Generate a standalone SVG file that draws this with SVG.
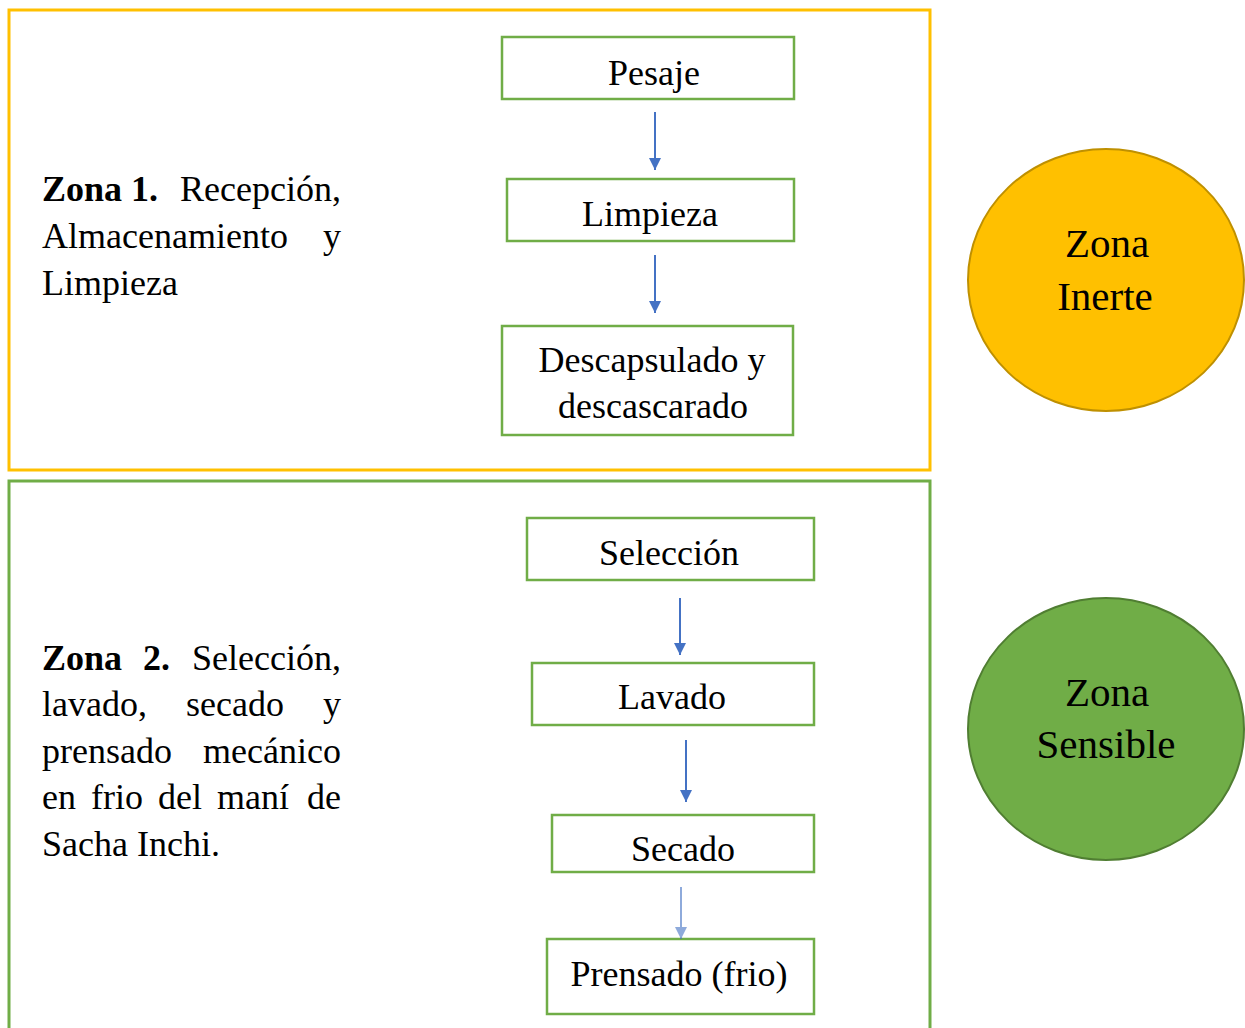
<svg xmlns="http://www.w3.org/2000/svg" width="1245" height="1028" viewBox="0 0 1245 1028">
<defs>
<style>
.box{fill:#fff;stroke:#70AD47;stroke-width:2.5}
.arr{stroke:#4472C4;stroke-width:2;fill:none}
</style>
<marker id="ah" viewBox="0 0 10 10" refX="10" refY="5" markerWidth="7" markerHeight="6" markerUnits="strokeWidth" orient="auto">
<path d="M0,0 L10,5 L0,10 z" fill="#4472C4"/>
</marker>
</defs>
<rect width="1245" height="1028" fill="#fff"/>
<g id="zona1-frame">
<rect x="9" y="10" width="921" height="460" fill="none" stroke="#FFC000" stroke-width="3"/>
</g>
<g id="zona2-frame">
<rect x="9" y="481" width="921" height="560" fill="none" stroke="#70AD47" stroke-width="3"/>
</g>
<g id="zona1-text" font-size="36" font-family="Liberation Serif, serif">
<text font-weight="bold" x="42" y="201">Zona 1.</text>
<text text-anchor="end" x="341" y="201">Recepción,</text>
<text x="42" y="248">Almacenamiento</text>
<text text-anchor="end" x="341" y="248">y</text>
<text x="42" y="295">Limpieza</text>
</g>
<g id="zona2-text" font-size="36" font-family="Liberation Serif, serif">
<text font-weight="bold" x="42" y="670">Zona</text>
<text font-weight="bold" x="143" y="670">2.</text>
<text text-anchor="end" x="341" y="670">Selección,</text>
<text x="42" y="716">lavado,</text>
<text x="186" y="716">secado</text>
<text text-anchor="end" x="341" y="716">y</text>
<text x="42" y="763">prensado</text>
<text text-anchor="end" x="341" y="763">mecánico</text>
<text x="42" y="809">en</text>
<text x="91" y="809">frio</text>
<text x="158" y="809">del</text>
<text x="217" y="809">maní</text>
<text text-anchor="end" x="341" y="809">de</text>
<text x="42" y="856">Sacha Inchi.</text>
</g>
<g font-family="Liberation Serif, serif" font-size="36" text-anchor="middle">
<g id="pesaje"><rect class="box" x="502" y="37" width="292" height="62"/><text x="654" y="85">Pesaje</text></g>
<g id="limpieza"><rect class="box" x="507" y="179" width="287" height="62"/><text x="650" y="226">Limpieza</text></g>
<g id="descapsulado"><rect class="box" x="502" y="326" width="291" height="109"/><text x="652" y="372">Descapsulado y</text><text x="653" y="418">descascarado</text></g>
<g id="seleccion"><rect class="box" x="527" y="518" width="287" height="62"/><text x="669" y="565">Selección</text></g>
<g id="lavado"><rect class="box" x="532" y="663" width="282" height="62"/><text x="672" y="709">Lavado</text></g>
<g id="secado"><rect class="box" x="552" y="815" width="262" height="57"/><text x="683" y="861">Secado</text></g>
<g id="prensado"><rect class="box" x="547" y="939" width="267" height="75"/><text x="679" y="986">Prensado (frio)</text></g>
</g>
<g id="connectors">
<line class="arr" x1="655" y1="112" x2="655" y2="170" marker-end="url(#ah)"/>
<line class="arr" x1="655" y1="255" x2="655" y2="313" marker-end="url(#ah)"/>
<line class="arr" x1="680" y1="598" x2="680" y2="655" marker-end="url(#ah)"/>
<line class="arr" x1="686" y1="740" x2="686" y2="802" marker-end="url(#ah)"/>
<line class="arr" x1="681" y1="887" x2="681" y2="939" marker-end="url(#ah)" opacity="0.6"/>
</g>
<g id="zona-inerte" font-family="Liberation Serif, serif" font-size="41" text-anchor="middle">
<ellipse cx="1106" cy="280" rx="138" ry="131" fill="#FFC000" stroke="#BF9000" stroke-width="2"/>
<text x="1107" y="257">Zona</text>
<text x="1105" y="310">Inerte</text>
</g>
<g id="zona-sensible" font-family="Liberation Serif, serif" font-size="41" text-anchor="middle">
<ellipse cx="1106" cy="729" rx="138" ry="131" fill="#70AD47" stroke="#507E32" stroke-width="2"/>
<text x="1107" y="706">Zona</text>
<text x="1106" y="758">Sensible</text>
</g>
</svg>
